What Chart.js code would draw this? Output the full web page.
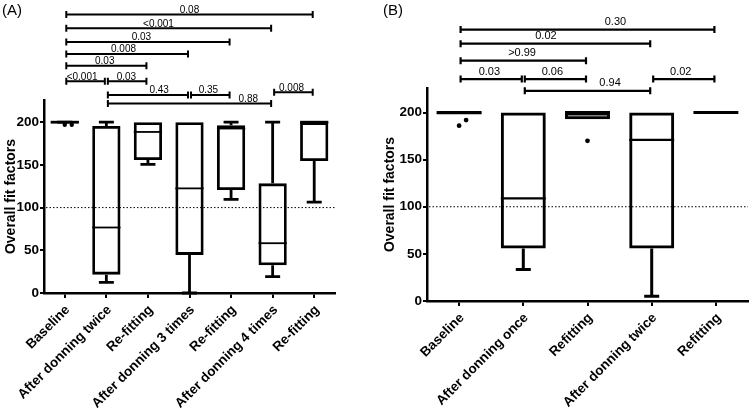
<!DOCTYPE html>
<html>
<head>
<meta charset="utf-8">
<script src="https://cdn.jsdelivr.net/npm/chart.js@4.4.1/dist/chart.umd.min.js"></script>
<style>
  html, body { margin: 0; padding: 0; background: #fff; }
  #wrap { position: relative; width: 752px; height: 409px; overflow: hidden; }
  canvas { position: absolute; top: 0; }
  .tag { position: absolute; top: 1px; font: 15px 'Liberation Sans', Arial, sans-serif; color: #000; }
</style>
</head>
<body>
<div id="wrap">
  <canvas id="chartA" width="376" height="409" style="left:0"></canvas>
  <canvas id="chartB" width="376" height="409" style="left:376px"></canvas>
  <div class="tag" style="left:2px">(A)</div>
  <div class="tag" style="left:383px">(B)</div>
</div>
<script>
const FONT = "'Liberation Sans', Arial, sans-serif";
const refLevel = 100;

// Panel A - box plot stats
const catsA = ['Baseline', 'After donning twice', 'Re-fitting', 'After donning 3 times', 'Re-fitting', 'After donning 4 times', 'Re-fitting'];
const loA  = [200, 12.5, 150.7, 0, 109.6, 19.2, 106.5];
const q1A  = [199, 21.5, 155.8, 44.6, 120.5, 32.5, 154.6];
const medA = [200, 76.7, 188.6, 122.5, 192.6, 58.3, 200];
const q3A  = [200, 195.7, 200, 200, 196.5, 128.4, 200];
const hiA  = [200, 200, 200, 200, 200, 200, 200];
const outA = [[197, 197], [], [], [], [], [], []];

// Panel A - comparisons
const pairsA = [[0, 6], [0, 5], [0, 4], [0, 3], [0, 2], [0, 1], [1, 2], [1, 3], [3, 4], [5, 6], [1, 5]];
const pvalsA = ['0.08', '<0.001', '0.03', '0.008', '0.03', '<0.001', '0.03', '0.43', '0.35', '0.008', '0.88'];

// Panel B - box plot stats
const catsB = ['Baseline', 'After donning once', 'Refitting', 'After donning twice', 'Refitting'];
const loB  = [198, 33.3, 192.9, 5, 200];
const q1B  = [198, 55.7, 192.9, 55.7, 200];
const medB = [200, 108.9, 200, 170.9, 200];
const q3B  = [200, 200, 200, 200, 200];
const hiB  = [200, 200, 200, 200, 200];
const outB = [[186, 192], [], [170], [], []];

// Panel B - comparisons
const pairsB = [[0, 4], [0, 3], [0, 2], [0, 1], [1, 2], [3, 4], [1, 3]];
const pvalsB = ['0.30', '0.02', '>0.99', '0.03', '0.06', '0.02', '0.94'];

// bracket layout (heights in axis units, label position along the bracket)
const levelsA  = [326, 310, 294, 280, 266, 248, 248, 232, 232, 235, 222];
const labelAtA = [0.5, 0.45, 0.46, 0.47, 0.48, 0.41, 0.48, 0.64, 0.45, 0.45, 0.86];
const levelsB  = [288, 273, 255, 235.5, 235.5, 235.5, 223];
const labelAtB = [0.61, 0.45, 0.49, 0.47, 0.45, 0.45, 0.68];

function boxPlugin(s, look) {
  return {
    id: 'boxExtras',
    afterDatasetsDraw(chart) {
      const { ctx, chartArea, scales: { x, y } } = chart;
      const meta = chart.getDatasetMeta(0);
      ctx.save();
      ctx.strokeStyle = '#000';
      ctx.fillStyle = '#000';

      // dotted reference line
      ctx.lineWidth = 1;
      ctx.setLineDash([1.5, 2]);
      const yr = y.getPixelForValue(refLevel);
      ctx.beginPath();
      ctx.moveTo(chartArea.left + 2, yr);
      ctx.lineTo(chartArea.right, yr);
      ctx.stroke();
      ctx.setLineDash([]);

      s.med.forEach((m, i) => {
        const cx = x.getPixelForValue(i);
        const w = meta.data[i].width;
        ctx.lineWidth = look.line;
        [[s.q3[i], s.hi[i]], [s.q1[i], s.lo[i]]].forEach(([from, to]) => {
          if (from === to) return;
          const a = y.getPixelForValue(from), b = y.getPixelForValue(to);
          ctx.beginPath();
          ctx.moveTo(cx, a);
          ctx.lineTo(cx, b);
          ctx.moveTo(cx - look.cap / 2, b);
          ctx.lineTo(cx + look.cap / 2, b);
          ctx.stroke();
        });
        // median
        ctx.lineWidth = s.q1[i] === s.q3[i] || m === s.q3[i] ? look.line : look.med;
        const ym = y.getPixelForValue(m);
        ctx.beginPath();
        ctx.moveTo(cx - w / 2, ym);
        ctx.lineTo(cx + w / 2, ym);
        ctx.stroke();
        // outliers
        s.out[i].forEach((v, k) => {
          ctx.beginPath();
          ctx.arc(cx + k * look.dotGap, y.getPixelForValue(v), look.dot, 0, Math.PI * 2);
          ctx.fill();
        });
      });
      ctx.restore();
    }
  };
}

function bracketPlugin(pairs, pvals, levels, labelAt, look) {
  return {
    id: 'brackets',
    afterDraw(chart) {
      const { ctx, scales: { x, y } } = chart;
      ctx.save();
      ctx.strokeStyle = '#000';
      ctx.fillStyle = '#000';
      ctx.lineWidth = look.bracket;
      ctx.font = look.pFont + 'px ' + FONT;
      ctx.textAlign = 'center';
      ctx.textBaseline = 'alphabetic';
      pairs.forEach(([a, b], i) => {
        const x1 = x.getPixelForValue(a) + 1.5;
        const x2 = x.getPixelForValue(b) - 1.5;
        const yy = y.getPixelForValue(levels[i]);
        ctx.beginPath();
        ctx.moveTo(x1, yy); ctx.lineTo(x2, yy);
        ctx.moveTo(x1, yy - 3.5); ctx.lineTo(x1, yy + 3.5);
        ctx.moveTo(x2, yy - 3.5); ctx.lineTo(x2, yy + 3.5);
        ctx.stroke();
        ctx.fillText(pvals[i], x1 + labelAt[i] * (x2 - x1), yy - look.gap);
      });
      ctx.restore();
    }
  };
}

function makePanel(id, cats, s, brackets, look) {
  const data = cats.map((_, i) => [s.q1[i], s.q3[i]]);
  return new Chart(document.getElementById(id), {
    type: 'bar',
    data: {
      labels: cats,
      datasets: [{
        data: data,
        backgroundColor: 'rgba(255,255,255,0)',
        borderColor: '#000',
        borderWidth: look.line,
        borderSkipped: false,
        barPercentage: look.barPct,
        categoryPercentage: 1
      }]
    },
    options: {
      responsive: false,
      animation: false,
      layout: { padding: { top: look.top, right: look.right, left: 0, bottom: 0 } },
      plugins: { legend: { display: false }, tooltip: { enabled: false } },
      scales: {
        x: {
          grid: { display: true, drawOnChartArea: false, drawTicks: true, tickLength: 5, offset: false, color: '#000', lineWidth: 2 },
          border: { display: true, color: '#000', width: 2.5 },
          ticks: { color: '#000', font: { family: FONT, size: 13.5, weight: 'bold' }, minRotation: 45, maxRotation: 45, autoSkip: false, padding: 4, labelOffset: 3 },
          afterFit: sc => { sc.height = look.xh; }
        },
        y: {
          min: 0,
          max: 226,
          grid: { display: true, drawOnChartArea: false, drawTicks: true, tickLength: 4, color: '#000', lineWidth: 2 },
          border: { display: true, color: '#000', width: 2.5 },
          ticks: { stepSize: 50, color: '#000', font: { family: FONT, size: 13.5, weight: 'bold' }, padding: 1 },
          title: { display: true, text: 'Overall fit factors', color: '#000', font: { family: FONT, size: 14, weight: 'bold' }, padding: { top: look.titlePad, bottom: 0 } },
          afterBuildTicks: sc => { sc.ticks = sc.ticks.filter(t => t.value <= 200); },
          afterFit: sc => { sc.width = look.yw; }
        }
      }
    },
    plugins: [boxPlugin(s, look), bracketPlugin(brackets.pairs, brackets.pvals, brackets.levels, brackets.labelAt, look)]
  });
}

makePanel('chartA', catsA,
  { lo: loA, q1: q1A, med: medA, q3: q3A, hi: hiA, out: outA },
  { pairs: pairsA, pvals: pvalsA, levels: levelsA, labelAt: labelAtA },
  { top: 100, right: 41, xh: 116, yw: 44, titlePad: 2.5, barPct: 0.68, line: 2.8, med: 1.8, cap: 15, dot: 2.2, dotGap: 7, bracket: 2, pFont: 10, gap: 1.5 });

makePanel('chartB', catsB,
  { lo: loB, q1: q1B, med: medB, q3: q3B, hi: hiB, out: outB },
  { pairs: pairsB, pvals: pvalsB, levels: levelsB, labelAt: labelAtB },
  { top: 88, right: 4, xh: 108, yw: 51, titlePad: 5.5, barPct: 0.7, line: 3, med: 2.2, cap: 15, dot: 2.4, dotGap: 7, bracket: 2.2, pFont: 11, gap: 4.5 });
</script>
</body>
</html>
